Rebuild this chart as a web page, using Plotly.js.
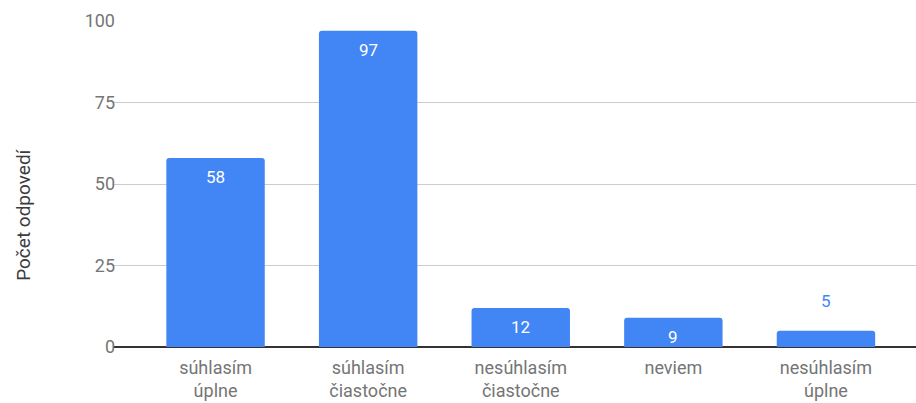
<!DOCTYPE html>
<html><head><meta charset="utf-8">
<script src="https://cdn.plot.ly/plotly-3.0.1.min.js"></script>
<style>html,body{margin:0;padding:0;background:#fff}#chart{width:916px;height:403px}</style>
</head><body><div id="chart"></div>
<script>
const categories = ['súhlasím<br>úplne', 'súhlasím<br>čiastočne', 'nesúhlasím<br>čiastočne', 'neviem', 'nesúhlasím<br>úplne'];
const values = [58, 97, 12, 9, 5];
const yTicks = [0, 25, 50, 75, 100];
const yTitle = 'Počet odpovedí';
const blue = '#4285F4';

const idx = categories.map((c, i) => i);
const annotations = values.map((v, i) => {
  const inside = v >= 9;
  return {
    x: i, y: v, xref: 'x', yref: 'y', text: String(v), showarrow: false,
    yanchor: inside ? 'top' : 'bottom', yshift: inside ? -7 : 18,
    font: {family: 'Roboto', size: 17, color: inside ? '#ffffff' : blue}
  };
});
annotations.push({
  xref: 'paper', yref: 'paper', x: -0.111, y: 0.405, xanchor: 'center', yanchor: 'middle',
  text: yTitle, textangle: -90, showarrow: false,
  font: {family: 'Roboto', size: 19, color: '#3c3c3c'}
});

Plotly.newPlot('chart', [{
  type: 'bar', x: idx, y: values, width: 0.645,
  marker: {color: blue, cornerradius: 3},
  hoverinfo: 'none'
}], {
  width: 916, height: 403,
  margin: {l: 113, r: 0, t: 21, b: 56},
  paper_bgcolor: '#fff', plot_bgcolor: '#fff',
  showlegend: false,
  font: {family: 'Roboto', color: '#757575'},
  xaxis: {
    range: [-0.672, 4.59], tickvals: idx, ticktext: categories,
    showgrid: false, zeroline: false, showline: false, ticks: '',
    ticklabelstandoff: 8,
    tickfont: {size: 18, color: '#757575'}, fixedrange: true
  },
  yaxis: {
    range: [0, 100], tickvals: yTicks, showgrid: true, gridcolor: '#cccccc',
    zeroline: true, zerolinecolor: '#333333', zerolinewidth: 1.5,
    ticks: '', ticklen: 0, ticklabelstandoff: -3,
    tickfont: {size: 18, color: '#757575'},
    fixedrange: true
  },
  annotations: annotations
}, {displayModeBar: false, staticPlot: true});
</script></body></html>
